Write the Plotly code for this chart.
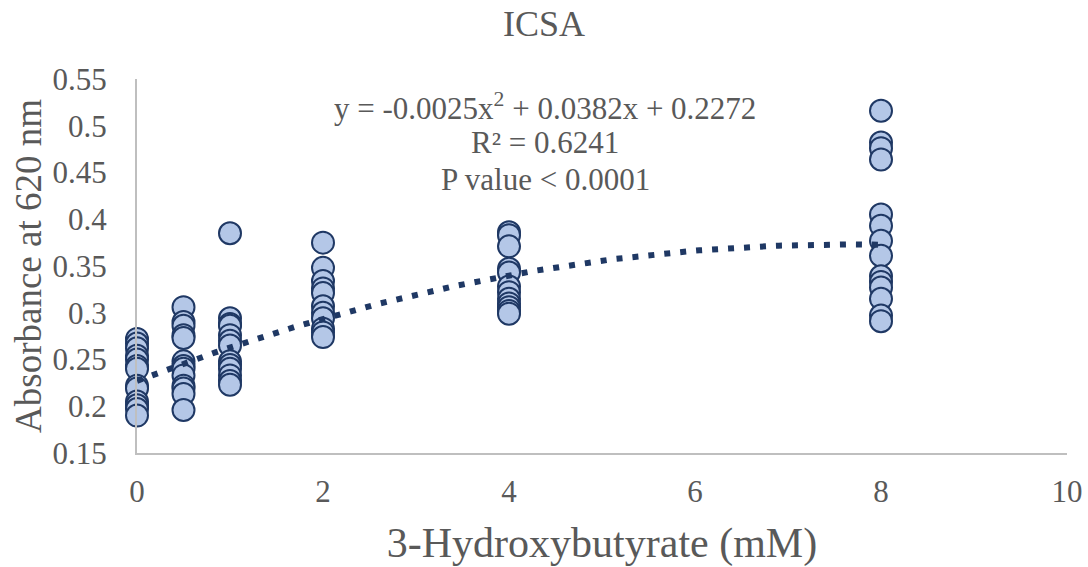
import plotly.graph_objects as go

conc_0 = [0.272, 0.267, 0.262, 0.254, 0.250, 0.243, 0.240, 0.222, 0.219, 0.205, 0.201, 0.197, 0.190]
conc_05 = [0.306, 0.290, 0.286, 0.276, 0.273, 0.248, 0.243, 0.240, 0.233, 0.222, 0.219, 0.213, 0.196]
conc_1 = [0.385, 0.294, 0.288, 0.286, 0.276, 0.270, 0.265, 0.248, 0.244, 0.240, 0.233, 0.227, 0.223]
conc_2 = [0.375, 0.348, 0.334, 0.326, 0.321, 0.307, 0.300, 0.294, 0.283, 0.279, 0.274]
conc_4 = [0.386, 0.383, 0.371, 0.347, 0.343, 0.328, 0.322, 0.315, 0.310, 0.306, 0.302, 0.299]
conc_8 = [0.516, 0.482, 0.476, 0.464, 0.405, 0.393, 0.377, 0.361, 0.339, 0.333, 0.327, 0.315, 0.297, 0.291]

groups = [(0, conc_0), (0.5, conc_05), (1, conc_1), (2, conc_2), (4, conc_4), (8, conc_8)]
xs, ys = [], []
for c, vals in groups:
    xs += [c] * len(vals)
    ys += vals

# quadratic trendline coefficients (as shown in chart)
a2, a1, a0 = -0.0025, 0.0382, 0.2272
trend_x = [i * 0.05 for i in range(161)]
trend_y = [a2 * t * t + a1 * t + a0 for t in trend_x]

eq_lines = ["y = -0.0025x<sup>2</sup> + 0.0382x + 0.2272", "R² = 0.6241", "P value < 0.0001"]
eq_y = [0.521, 0.4816, 0.442]

FONT = "Liberation Serif, Times New Roman, serif"
GREY = "#595959"

fig = go.Figure()
fig.add_trace(go.Scatter(
    x=xs, y=ys, mode="markers", cliponaxis=False,
    marker=dict(size=22, color="#B4C7E7", line=dict(color="#1F3864", width=2)),
    showlegend=False, hoverinfo="x+y"))
fig.add_trace(go.Scatter(
    x=trend_x, y=trend_y, mode="lines", cliponaxis=False,
    line=dict(color="#1F3864", width=6, dash="6px,10px"),
    showlegend=False, hoverinfo="skip"))

fig.update_layout(
    width=1088, height=567,
    paper_bgcolor="white", plot_bgcolor="white",
    margin=dict(l=137, r=21, t=79, b=114),
    font=dict(family=FONT, color=GREY, size=31),
    title=dict(text="ICSA", x=0.5, xanchor="center", y=0.958, yanchor="middle",
               font=dict(family=FONT, size=36, color=GREY)),
    xaxis=dict(range=[0, 10], tickvals=[0, 2, 4, 6, 8, 10], showgrid=False,
               zeroline=False, showline=True, linecolor="#BFBFBF", linewidth=2,
               ticks="", ticklabelstandoff=10, automargin=False,
               tickfont=dict(family=FONT, size=31, color=GREY),
               title=dict(text="3-Hydroxybutyrate (mM)", standoff=26,
                          font=dict(family=FONT, size=42, color=GREY))),
    yaxis=dict(range=[0.15, 0.55], tickvals=[0.15, 0.2, 0.25, 0.3, 0.35, 0.4, 0.45, 0.5, 0.55],
               ticktext=["0.15", "0.2", "0.25", "0.3", "0.35", "0.4", "0.45", "0.5", "0.55"],
               showgrid=False, zeroline=False, showline=True, linecolor="#BFBFBF", linewidth=2,
               ticks="", ticklabelstandoff=22, automargin=False,
               tickfont=dict(family=FONT, size=31, color=GREY),
               title=dict(text="Absorbance at 620 nm", standoff=0,
                          font=dict(family=FONT, size=37, color=GREY))),
    annotations=[dict(
        x=4.39, y=yy, xref="x", yref="y", showarrow=False, align="center",
        text=t, font=dict(family=FONT, size=31, color=GREY)) for t, yy in zip(eq_lines, eq_y)],
)

fig.write_html("out.html")
